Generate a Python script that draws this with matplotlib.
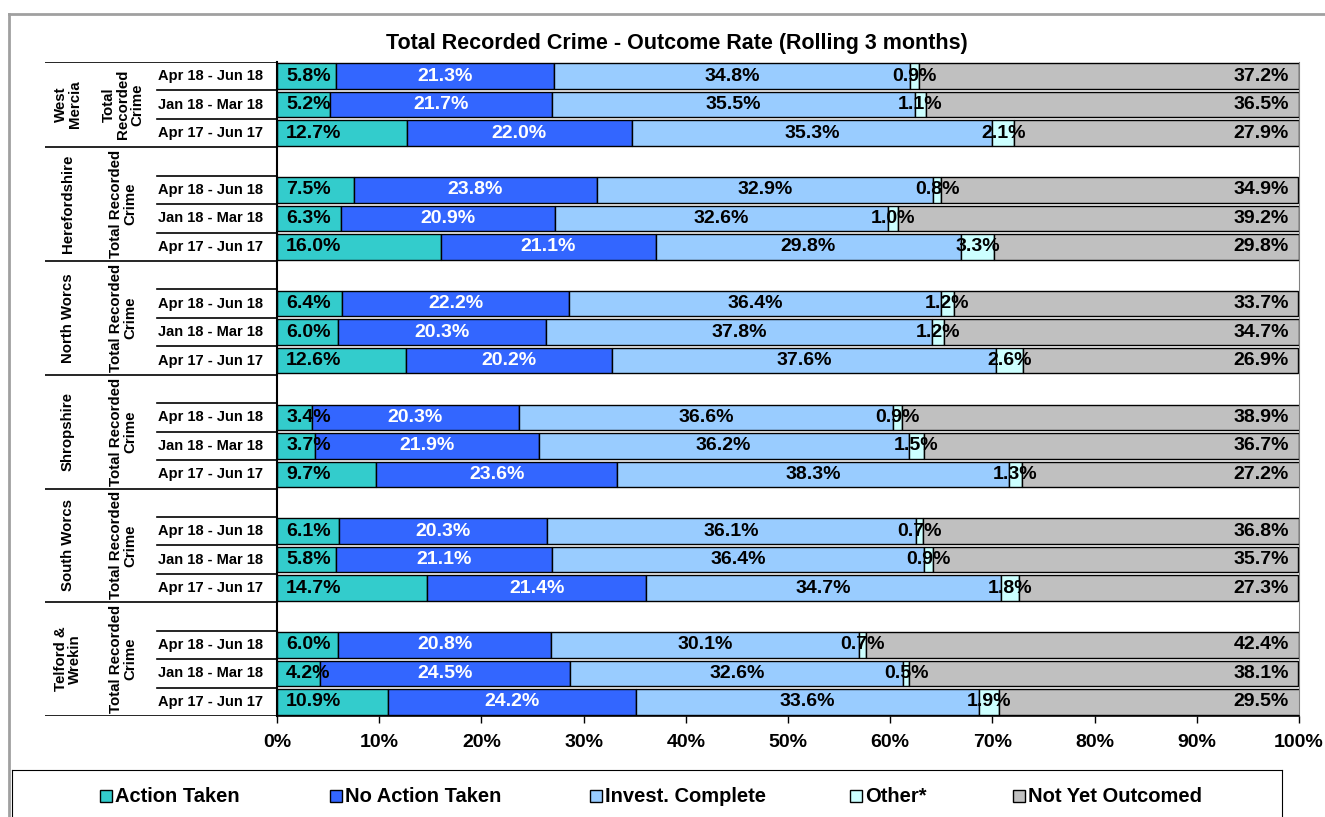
import matplotlib.pyplot as plt
from matplotlib.lines import Line2D
from matplotlib.patches import Rectangle

plt.rcParams['font.family'] = ['Liberation Sans', 'DejaVu Sans']
plt.rcParams['font.weight'] = 'bold'

regions = ["West\nMercia", "Herefordshire", "North Worcs", "Shropshire", "South Worcs", "Telford &\nWrekin"]
measures = ["Total\nRecorded\nCrime"] + ["Total Recorded\nCrime"] * 5
periods = ["Apr 18 - Jun 18", "Jan 18 - Mar 18", "Apr 17 - Jun 17"]

series = ["Action Taken", "No Action Taken", "Invest. Complete", "Other*", "Not Yet Outcomed"]
colors = ["#33CCCC", "#3366FF", "#99CCFF", "#CCFFFF", "#C0C0C0"]
text_colors = ["black", "white", "black", "black", "black"]

# 6 areas x 3 periods, in order
action = [5.8, 5.2, 12.7, 7.5, 6.3, 16.0, 6.4, 6.0, 12.6, 3.4, 3.7, 9.7, 6.1, 5.8, 14.7, 6.0, 4.2, 10.9]
no_action = [21.3, 21.7, 22.0, 23.8, 20.9, 21.1, 22.2, 20.3, 20.2, 20.3, 21.9, 23.6, 20.3, 21.1, 21.4, 20.8, 24.5, 24.2]
invest = [34.8, 35.5, 35.3, 32.9, 32.6, 29.8, 36.4, 37.8, 37.6, 36.6, 36.2, 38.3, 36.1, 36.4, 34.7, 30.1, 32.6, 33.6]
other = [0.9, 1.1, 2.1, 0.8, 1.0, 3.3, 1.2, 1.2, 2.6, 0.9, 1.5, 1.3, 0.7, 0.9, 1.8, 0.7, 0.5, 1.9]
not_yet = [37.2, 36.5, 27.9, 34.9, 39.2, 29.8, 33.7, 34.7, 26.9, 38.9, 36.7, 27.2, 36.8, 35.7, 27.3, 42.4, 38.1, 29.5]
values = [action, no_action, invest, other, not_yet]

# row positions: blank row before every area except the first
rows = []
group_span = []
r = 0
for g in range(len(regions)):
    start = r
    if g > 0:
        r += 1
    for p in range(len(periods)):
        rows.append(r)
        r += 1
    group_span.append((start, r))
n_rows = r

W, H = 1325, 817
fig = plt.figure(figsize=(W / 100, H / 100), dpi=100)

x0, x1, ytop, ybot = 277, 1299, 62, 716
ax = fig.add_axes([x0 / W, 1 - ybot / H, (x1 - x0) / W, (ybot - ytop) / H])

left = [0.0] * len(rows)
for k, vals in enumerate(values):
    ax.barh(rows, vals, left=left, height=0.9, color=colors[k], edgecolor="black",
            linewidth=1, label=series[k])
    for i, v in enumerate(vals):
        txt = f"{v:.1f}%"
        if k == 0:
            ax.text(left[i] + 0.9, rows[i], txt, ha="left", va="center", fontsize=14,
                    color=text_colors[k])
        elif k == 4:
            ax.text(99.0, rows[i], txt, ha="right", va="center", fontsize=14,
                    color=text_colors[k])
        else:
            ax.text(left[i] + v / 2, rows[i], txt, ha="center", va="center", fontsize=14,
                    color=text_colors[k])
    left = [a + b for a, b in zip(left, vals)]

ax.set_xlim(0, 100)
ax.set_ylim(n_rows - 0.5, -0.5)
ax.set_xticks(range(0, 101, 10))
ax.set_xticklabels([f"{t}%" for t in range(0, 101, 10)], fontsize=14, fontweight="bold")
ax.set_yticks([])
ax.tick_params(axis="x", length=5, width=1, direction="out", pad=8)
ax.spines["top"].set_visible(False)
ax.spines["right"].set_color("#808080")
ax.spines["left"].set_linewidth(1.5)
ax.spines["bottom"].set_linewidth(1.2)

fig.suptitle("Total Recorded Crime - Outcome Rate (Rolling 3 months)", x=677 / W,
             y=1 - 43 / H, va="center", fontsize=15.5, fontweight="bold")

# category table on the left
tab = fig.add_axes([45 / W, 1 - ybot / H, (x0 - 45) / W, (ybot - ytop) / H])
tab.set_xlim(45, x0)
tab.set_ylim(n_rows - 0.5, -0.5)
tab.axis("off")
for g, (s, e) in enumerate(group_span):
    tab.plot([45, x0], [s - 0.5, s - 0.5], color="black", lw=1.2)
    for b in range(s + 1, e):
        tab.plot([157, x0], [b - 0.5, b - 0.5], color="black", lw=1.2)
    mid = (s + e - 1) / 2
    tab.text(68, mid, regions[g], rotation=90, ha="center", va="center",
             fontsize=10.8, linespacing=1.0)
    tab.text(123, mid, measures[g], rotation=90, ha="center", va="center",
             fontsize=10.8, linespacing=1.0)
tab.plot([45, x0], [n_rows - 0.5, n_rows - 0.5], color="black", lw=1.2)
for i, rr in enumerate(rows):
    tab.text(158, rr, periods[i % 3], ha="left", va="center", fontsize=10.5)

# legend box
lax = fig.add_axes([12 / W, 0, (1282 - 12) / W, (H - 770) / H])
lax.set_xlim(12, 1282)
lax.set_ylim(H, 770)
lax.set_xticks([])
lax.set_yticks([])
lax.spines["bottom"].set_visible(False)
leg_x = [100, 330, 590, 850, 1013]
for k in range(len(series)):
    lax.add_patch(Rectangle((leg_x[k], 790), 12, 12, facecolor=colors[k],
                            edgecolor="black", lw=1))
    lax.text(leg_x[k] + 15, 796, series[k], ha="left", va="center", fontsize=14.5)

# outer grey frame (partly cropped)
fig.add_artist(Line2D([9 / W, 9 / W], [0, 1 - 14 / H], color="#A0A0A0", lw=2))
fig.add_artist(Line2D([9 / W, 1], [1 - 14 / H, 1 - 14 / H], color="#A0A0A0", lw=2))

fig.savefig("out.png", dpi=100)
